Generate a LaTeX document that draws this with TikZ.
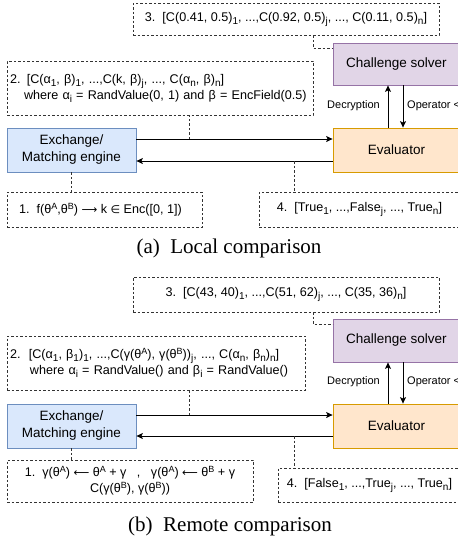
\documentclass[tikz,border=0pt]{standalone}
\usepackage{fontspec}
\setmainfont{Liberation Sans}
\newfontfamily\capfont{Liberation Serif}
\newfontfamily\symfont{DejaVu Sans}
\usetikzlibrary{arrows.meta}
\definecolor{exfill}{HTML}{DAE8FC}\definecolor{exdraw}{HTML}{6C8EBF}
\definecolor{evfill}{HTML}{FFE6CC}\definecolor{evdraw}{HTML}{D79B00}
\definecolor{sofill}{HTML}{E1D5E7}\definecolor{sodraw}{HTML}{9673A6}
\definecolor{dashc}{HTML}{333333}
\newcommand\sbx[1]{\raisebox{-0.45ex}{\fontsize{10}{10}\selectfont #1}}
\newcommand\spx[1]{\raisebox{0.6ex}{\fontsize{9}{9}\selectfont #1}}
\newcommand\sy[1]{{\symfont\fontsize{11}{11}\selectfont #1}}
\tikzset{
  txt/.style={font=\fontsize{12.6}{16}\selectfont},
  dbox/.style={draw=dashc, line width=0.7pt, dash pattern=on 2.5pt off 2pt, inner sep=0pt, txt},
  solid box/.style={line width=0.8pt, inner sep=0pt, font=\fontsize{13.5}{17}\selectfont, align=center},
  exbox/.style={solid box, fill=exfill, draw=exdraw},
  evbox/.style={solid box, fill=evfill, draw=evdraw},
  sobox/.style={solid box, fill=sofill, draw=sodraw},
  dl/.style={draw=dashc, line width=0.7pt, dash pattern=on 2.5pt off 2pt},
  arr/.style={line width=0.9pt, -{Stealth[length=6.5pt,width=6pt,inset=1.5pt]}},
  lab/.style={font=\fontsize{11}{13}\selectfont, inner sep=1pt},
  capstyle/.style={font=\capfont\fontsize{21}{24}\selectfont}
}
\begin{document}
\begin{tikzpicture}[x=1pt,y=-1pt]
\useasboundingbox (0,0) rectangle (458,542);
\clip (0,0) rectangle (458,542);
% ---------- panel (a) ----------
\node[dbox, minimum width=306pt, minimum height=32pt] (b3a) at (286,19)
  {3.~~[C(0.41, 0.5)\sbx{1}, ...,C(0.92, 0.5)\sbx{j}, ..., C(0.11, 0.5)\sbx{n}]};
\node[sobox, minimum width=127pt, minimum height=42pt] (soa) at (396.5,64) {Challenge solver};
\node[dbox, minimum width=306pt, minimum height=54pt, text width=300pt, align=left] (b2a) at (160,88)
  {2. [C(α\sbx{1}, β)\sbx{1}, ...,C(k, β)\sbx{j}, ..., C(α\sbx{n}, β)\sbx{n}]\\
   \hspace*{14pt}where α\sbx{i} = RandValue(0, 1) and β = EncField(0.5)};
\node[exbox, minimum width=129pt, minimum height=44pt] (exa) at (71.5,150) {Exchange/\\Matching engine};
\node[evbox, minimum width=127pt, minimum height=44pt] (eva) at (396.5,150) {Evaluator};
\node[dbox, minimum width=195pt, minimum height=35pt] (b1a) at (104.5,209.5)
  {1.~~f(θ\spx{A},θ\spx{B}) \sy{⟶} k \sy{∈} Enc([0, 1])\hspace*{8pt}};
\node[dbox, minimum width=201pt, minimum height=35pt] (b4a) at (359.5,209.5)
  {4.~~[True\sbx{1}, ...,False\sbx{j}, ..., True\sbx{n}]};
\node[capstyle] (capa) at (229,248) {(a)\enspace Local comparison};
% connectors (a)
\draw[dl] (b3a.south -| b2a.east) |- ([yshift=-6pt]soa.north west);
\draw[arr] ([yshift=11pt]exa.east) -- ([yshift=11pt]eva.west);
\draw[arr] ([yshift=-11pt]eva.west) -- ([yshift=-11pt]exa.east);
\coordinate (pa) at (189,139);
\draw[dl] (pa) -- (pa |- b2a.south);
\draw[dl] (exa.south) -- (exa.south |- b1a.north);
\coordinate (qa) at (294,161);
\draw[dl] (qa) -- (qa |- b4a.north);
\draw[arr] ([xshift=-8.5pt]eva.north) -- ([xshift=-8.5pt]soa.south);
\draw[arr] ([xshift=6.5pt]soa.south) -- ([xshift=6.5pt]eva.north);
\node[lab, anchor=east] (deca) at (381,106) {Decryption};
\node[lab, anchor=west] (opa) at (406,106) {Operator <};
% ---------- panel (b) ----------
\node[dbox, minimum width=306pt, minimum height=35pt] (b3b) at (286,294.5)
  {3.~~[C(43, 40)\sbx{1}, ...,C(51, 62)\sbx{j}, ..., C(35, 36)\sbx{n}]};
\node[sobox, minimum width=127pt, minimum height=43pt] (sob) at (396.5,340.5) {Challenge solver};
\node[dbox, minimum width=298pt, minimum height=54pt, text width=292pt, align=left] (b2b) at (156,363)
  {2.~~[C(α\sbx{1}, β\sbx{1})\sbx{1}, ...,C(γ(θ\spx{A}), γ(θ\spx{B}))\sbx{j}, ..., C(α\sbx{n}, β\sbx{n})\sbx{n}]\\
   \hspace*{20pt}where α\sbx{i} = RandValue() and β\sbx{i} = RandValue()};
\node[exbox, minimum width=129pt, minimum height=44pt] (exb) at (71.5,426) {Exchange/\\Matching engine};
\node[evbox, minimum width=127pt, minimum height=44pt] (evb) at (396.5,426) {Evaluator};
\node[dbox, minimum width=246pt, minimum height=42pt, align=center] (b1b) at (130,481)
  {1.~~γ(θ\spx{A}) \sy{⟵} θ\spx{A} + γ~~~,~~~γ(θ\spx{A}) \sy{⟵} θ\spx{B} + γ\\
   C(γ(θ\spx{B}), γ(θ\spx{B}))};
\node[dbox, minimum width=183pt, minimum height=34pt] (b4b) at (369.5,485)
  {4.~~[False\sbx{1}, ...,True\sbx{j}, ..., True\sbx{n}]};
\node[capstyle] (capb) at (230,526) {(b)\enspace Remote comparison};
% connectors (b)
\draw[dl] (b3b.south -| b2a.east) |- ([yshift=-6pt]sob.north west);
\draw[arr] ([yshift=11pt]exb.east) -- ([yshift=11pt]evb.west);
\draw[arr] ([yshift=-10pt]evb.west) -- ([yshift=-10pt]exb.east);
\coordinate (pb) at (189,415);
\draw[dl] (pb) -- (pb |- b2b.south);
\draw[dl] (exb.south) -- (exb.south |- b1b.north);
\coordinate (qb) at (294,436);
\draw[dl] (qb) -- (qb |- b4b.north);
\draw[arr] ([xshift=-8.5pt]evb.north) -- ([xshift=-8.5pt]sob.south);
\draw[arr] ([xshift=6.5pt]sob.south) -- ([xshift=6.5pt]evb.north);
\node[lab, anchor=east] (decb) at (381,382) {Decryption};
\node[lab, anchor=west] (opb) at (406,382) {Operator <};
\end{tikzpicture}
\end{document}
